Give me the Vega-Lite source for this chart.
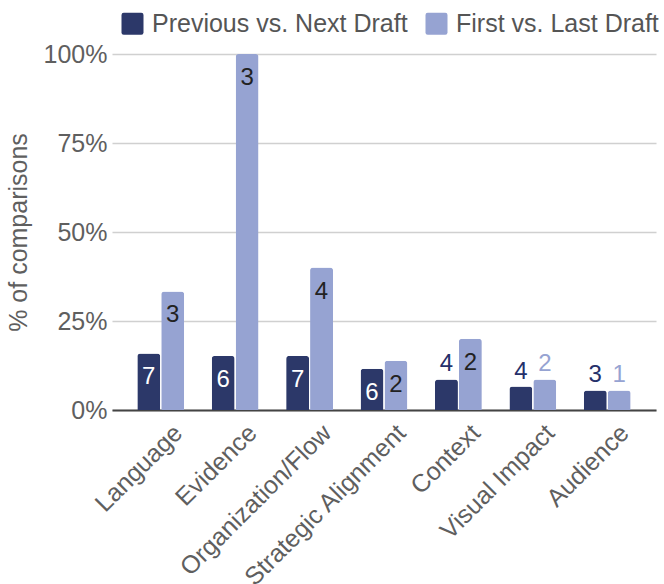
{
  "$schema": "https://vega.github.io/schema/vega-lite/v6.json",
  "width": 544,
  "height": 356,
  "autosize": {"type": "none"},
  "padding": {"left": 112, "top": 54, "right": 8, "bottom": 174},
  "background": "white",
  "config": {
    "view": {"stroke": null},
    "font": "Liberation Sans"
  },
  "data": {
    "values": [
      {"category": "Language", "series": "Previous vs. Next Draft", "pct": 0.159, "count": 7},
      {"category": "Language", "series": "First vs. Last Draft", "pct": 0.333, "count": 3},
      {"category": "Evidence", "series": "Previous vs. Next Draft", "pct": 0.152, "count": 6},
      {"category": "Evidence", "series": "First vs. Last Draft", "pct": 1.0, "count": 3},
      {"category": "Organization/Flow", "series": "Previous vs. Next Draft", "pct": 0.152, "count": 7},
      {"category": "Organization/Flow", "series": "First vs. Last Draft", "pct": 0.4, "count": 4},
      {"category": "Strategic Alignment", "series": "Previous vs. Next Draft", "pct": 0.116, "count": 6},
      {"category": "Strategic Alignment", "series": "First vs. Last Draft", "pct": 0.138, "count": 2},
      {"category": "Context", "series": "Previous vs. Next Draft", "pct": 0.086, "count": 4},
      {"category": "Context", "series": "First vs. Last Draft", "pct": 0.2, "count": 2},
      {"category": "Visual Impact", "series": "Previous vs. Next Draft", "pct": 0.066, "count": 4},
      {"category": "Visual Impact", "series": "First vs. Last Draft", "pct": 0.086, "count": 2},
      {"category": "Audience", "series": "Previous vs. Next Draft", "pct": 0.055, "count": 3},
      {"category": "Audience", "series": "First vs. Last Draft", "pct": 0.055, "count": 1}
    ]
  },
  "encoding": {
    "x": {
      "field": "category",
      "type": "nominal",
      "sort": null,
      "scale": {"paddingInner": 0.37, "paddingOuter": 0.34},
      "axis": {
        "title": null,
        "labelAngle": -45,
        "labelFontSize": 25,
        "labelColor": "#5f5f5f",
        "labelPadding": 10,
        "labelOffset": 9,
        "labelLimit": 0,
        "ticks": false,
        "domain": true,
        "domainColor": "#444444",
        "domainWidth": 2,
        "labelOverlap": false
      }
    },
    "xOffset": {
      "field": "series",
      "type": "nominal",
      "sort": ["Previous vs. Next Draft", "First vs. Last Draft"],
      "scale": {"paddingInner": 0.04}
    },
    "y": {
      "field": "pct",
      "type": "quantitative",
      "scale": {"domain": [0, 1], "nice": false},
      "axis": {
        "title": "% of comparisons",
        "titleFontSize": 25,
        "titleFontWeight": "normal",
        "titleColor": "#5f5f5f",
        "titlePadding": 12,
        "values": [0, 0.25, 0.5, 0.75, 1],
        "format": ".0%",
        "labelFontSize": 25,
        "labelColor": "#5f5f5f",
        "labelPadding": 5,
        "ticks": false,
        "domain": false,
        "grid": true,
        "gridColor": "#d0d0d0",
        "gridWidth": 1.5
      }
    }
  },
  "layer": [
    {
      "mark": {"type": "bar", "cornerRadiusTopLeft": 3, "cornerRadiusTopRight": 3},
      "encoding": {
        "color": {
          "field": "series",
          "type": "nominal",
          "sort": ["Previous vs. Next Draft", "First vs. Last Draft"],
          "scale": {"domain": ["Previous vs. Next Draft", "First vs. Last Draft"], "range": ["#2c3869", "#96a3d2"]},
          "legend": {
            "title": null,
            "orient": "none",
            "direction": "horizontal",
            "legendX": 8,
            "legendY": -43,
            "symbolType": "M-0.8,-1L0.8,-1Q1,-1 1,-0.8L1,0.8Q1,1 0.8,1L-0.8,1Q-1,1 -1,0.8L-1,-0.8Q-1,-1 -0.8,-1Z",
            "symbolSize": 484,
            "symbolStrokeWidth": 0,
            "labelFontSize": 25,
            "labelColor": "#555555",
            "labelOffset": 7,
            "columnPadding": 16,
            "labelLimit": 400
          }
        }
      }
    },
    {
      "transform": [{"filter": "datum.pct >= 0.1"}],
      "mark": {"type": "text", "fontSize": 24, "baseline": "middle", "dy": 24},
      "encoding": {
        "text": {"field": "count", "type": "quantitative"},
        "color": {
          "condition": {"test": "datum.series == 'Previous vs. Next Draft'", "value": "#ffffff"},
          "value": "#222222"
        }
      }
    },
    {
      "transform": [{"filter": "datum.pct < 0.1"}],
      "mark": {"type": "text", "fontSize": 24, "baseline": "middle", "dy": -15},
      "encoding": {
        "text": {"field": "count", "type": "quantitative"},
        "color": {
          "condition": {"test": "datum.series == 'Previous vs. Next Draft'", "value": "#25306a"},
          "value": "#96a3d2"
        }
      }
    }
  ]
}
